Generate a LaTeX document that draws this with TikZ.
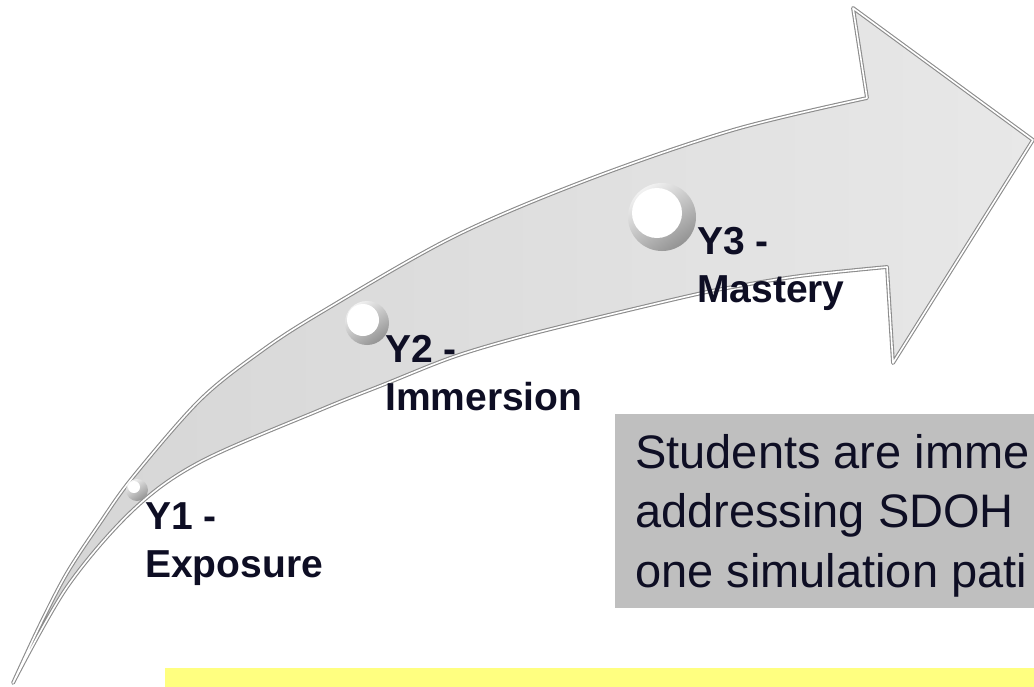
\documentclass[tikz,border=0pt]{standalone}
\usepackage{fontspec}
\setmainfont{Liberation Sans}
\usepackage{tikz}
\usetikzlibrary{positioning}

\definecolor{arrowfill}{RGB}{222,222,222}
\definecolor{arrowedge}{RGB}{140,140,140}
\definecolor{inknavy}{RGB}{14,14,36}
\definecolor{notegray}{RGB}{191,191,191}
\definecolor{hilite}{RGB}{255,255,128}

\begin{document}
\begin{tikzpicture}[
    x=1pt, y=-1pt,
    every node/.style={font=\normalsize},
    body/.style={left color=arrowfill!96!black, right color=arrowfill!70!white,
      draw=arrowedge, line width=1.1pt, double=white, double distance=1.6pt, line join=round},
    stage/.style={font=\fontsize{39}{48}\selectfont\bfseries, text=inknavy, align=left, inner sep=0pt},
    dot/.style={circle, inner sep=0pt, top color=gray!10, bottom color=gray!85, shading angle=35},
    hole/.style={circle, inner sep=0pt, fill=white},
    note/.style={font=\fontsize{47}{59.5}\selectfont, text=inknavy, align=left, inner sep=0pt}
  ]
    \clip (0,0) rectangle (1034,686);

    % 曲がった矢印
    \path[body] plot[smooth, tension=0.55] coordinates {
        (13,683) (40,625) (67,573) (100,523) (133,477) (200,400) (260,352)
        (320,313) (453,237) (587,180) (733,130) (867,98)}
      -- (853,8) -- (1033,140) -- (893,363) -- (887,267)
      -- plot[smooth, tension=0.55] coordinates {
        (887,267) (800,276) (733,287) (693,295) (600,317) (520,337) (453,357)
        (385,384) (320,410) (200,462) (133,510) (67,587) (13,683)}
      -- cycle;

    % 段階の丸
    \node[dot, minimum size=22pt] (y1dot) at (137,490) {};
    \node[hole, minimum size=12pt] at ([shift={(-3,-3)}]y1dot.center) {};
    \node[dot, minimum size=44pt] (y2dot) at (367,323) {};
    \node[hole, minimum size=32pt] at ([shift={(-4,-3)}]y2dot.center) {};
    \node[dot, minimum size=68pt] (y3dot) at (662,217) {};
    \node[hole, minimum size=50pt] at ([shift={(-5,-4)}]y3dot.center) {};

    % 段階ラベル(base は最後の行)
    \node[stage, anchor=base west] (y1) at (145,577) {Y1 -\\Exposure};
    \node[stage, anchor=base west] (y2) at (385,410) {Y2 -\\Immersion};
    \node[stage, anchor=base west] (y3) at (697,302) {Y3 -\\Mastery};

    % 説明の箱
    \fill[notegray] (615,414) rectangle (1040,608);
    \node[note, anchor=base west] (notetext) at (635,587)
      {Students are imme\\addressing SDOH\\one simulation pati};

    % 下の帯
    \fill[hilite] (165,668) rectangle (1040,690);

  \end{tikzpicture}
\end{document}
